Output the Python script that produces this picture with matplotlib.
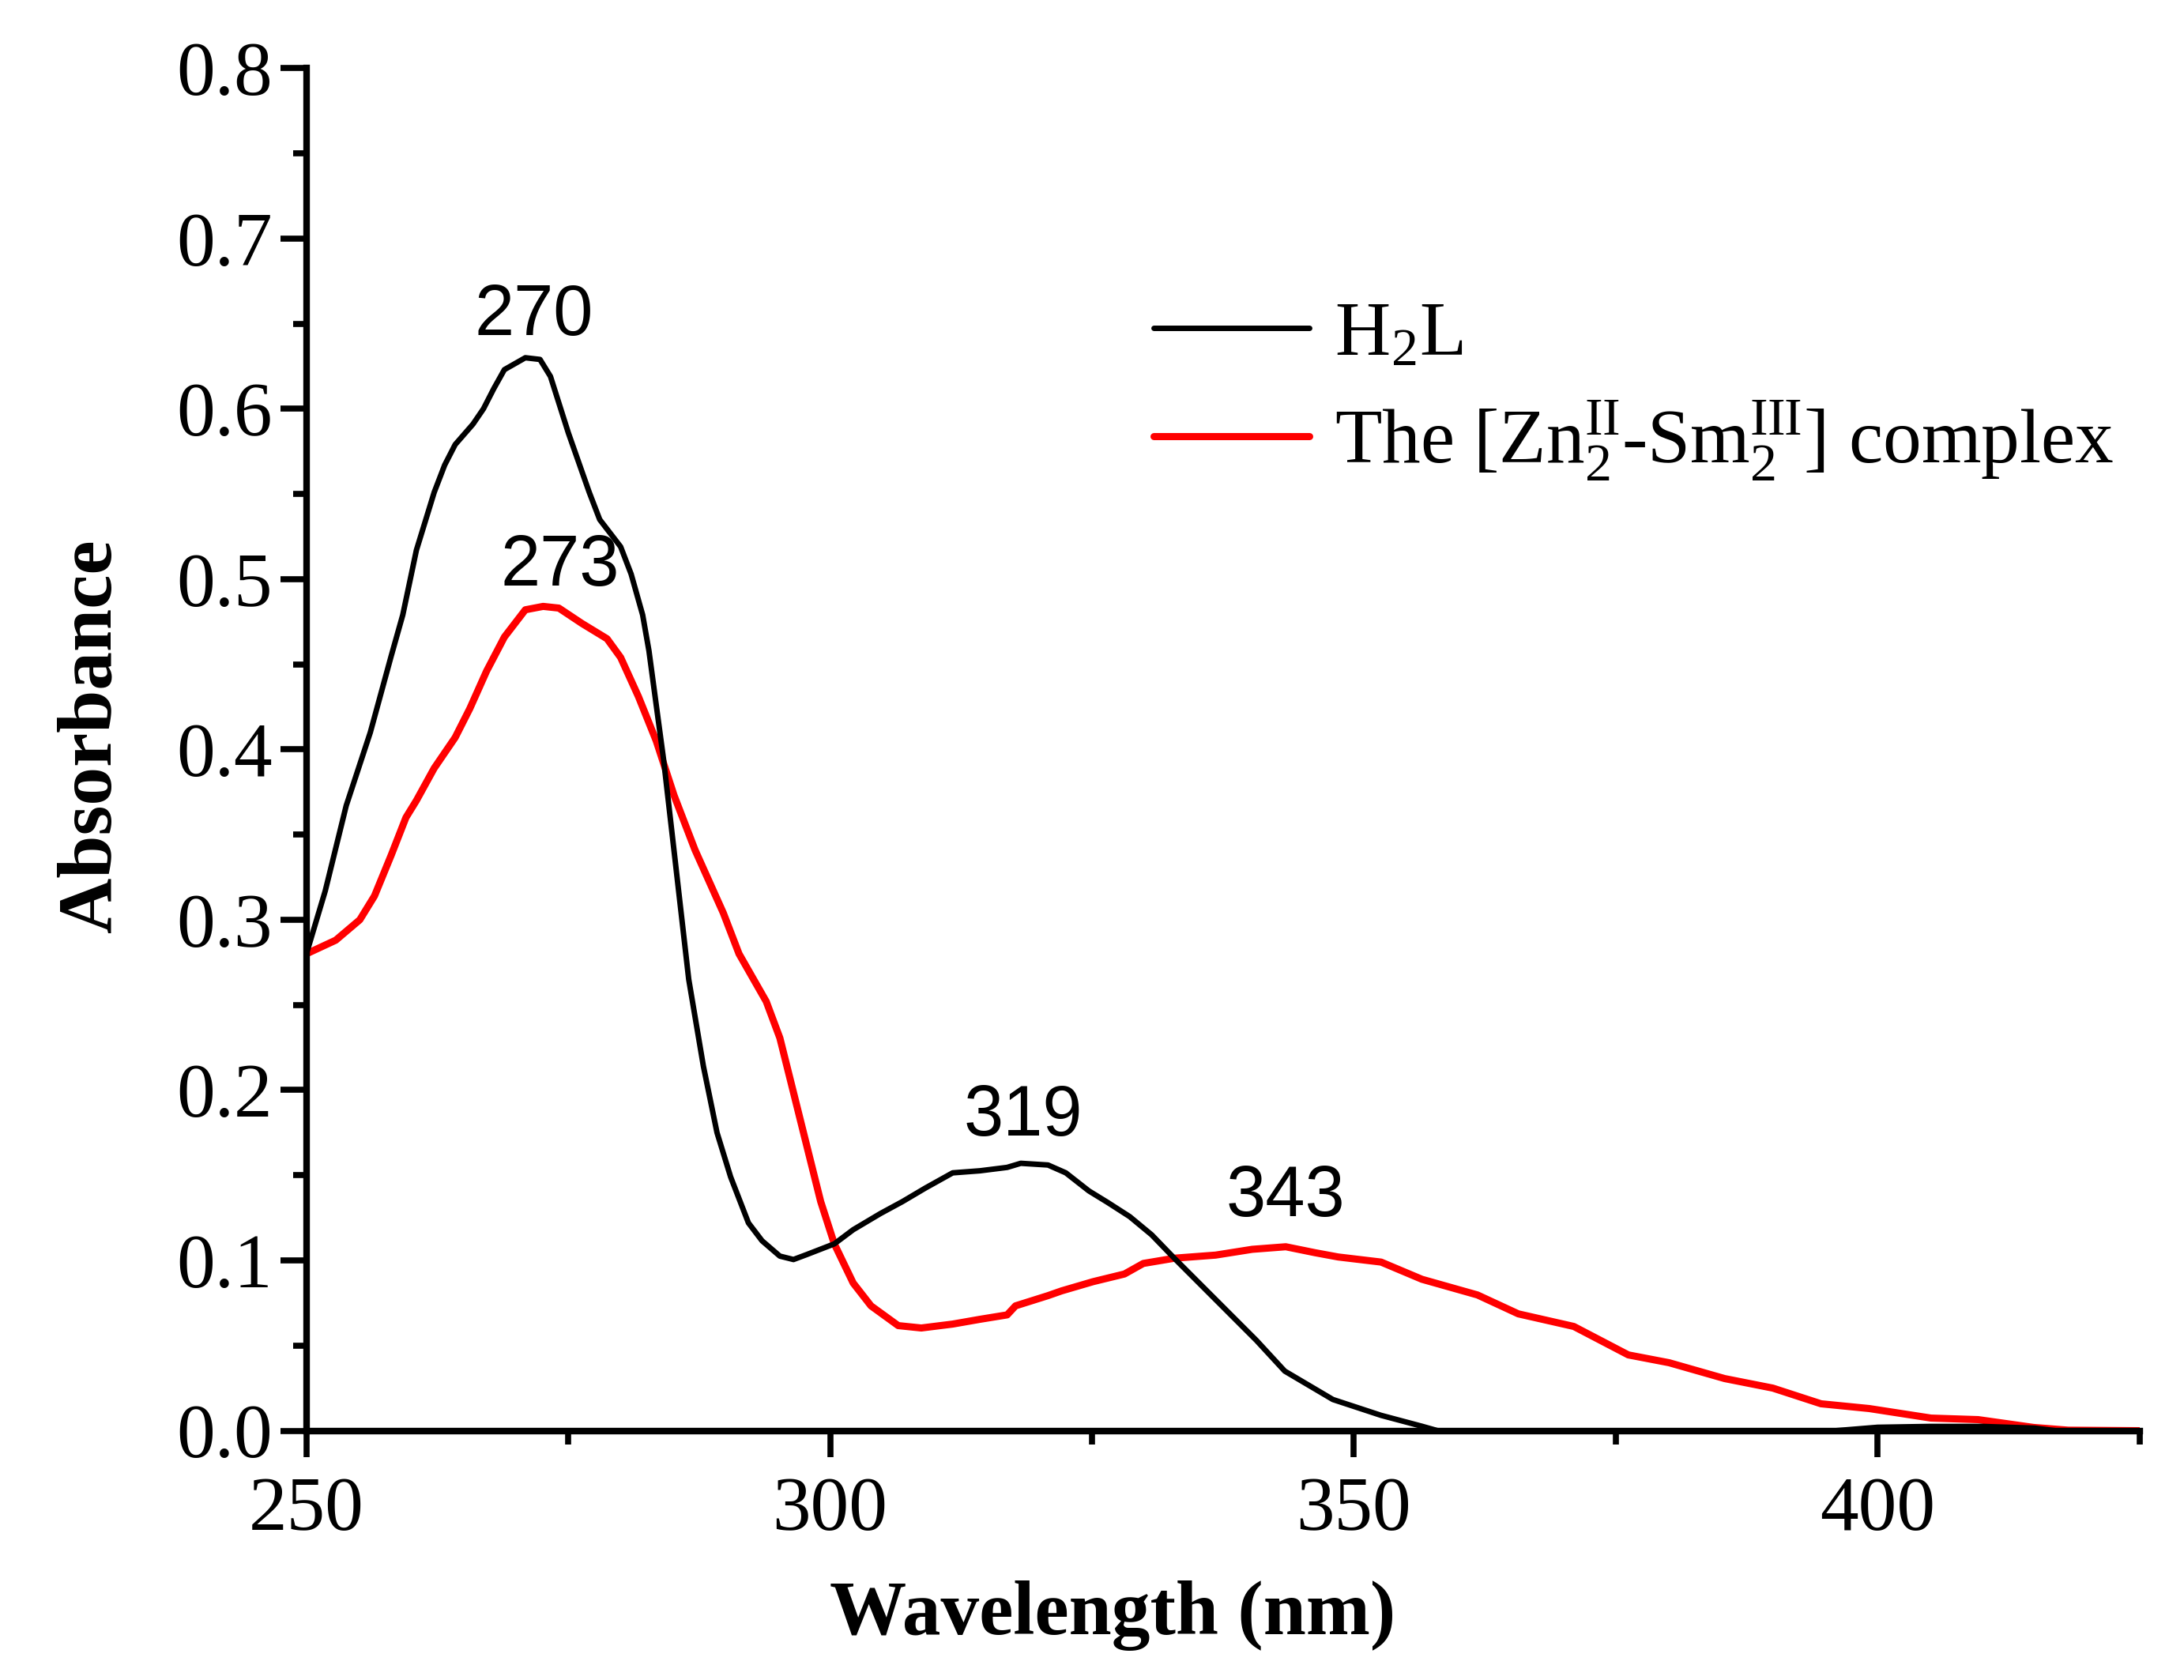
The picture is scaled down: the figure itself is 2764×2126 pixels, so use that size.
import matplotlib
matplotlib.use("Agg")
import matplotlib.pyplot as plt
from matplotlib.ticker import MultipleLocator, FormatStrFormatter

# H2L spectrum
h2l_wl = [250, 251.8, 253.8, 256.1, 258.1, 259.2, 260.5, 262.2, 263.2, 264.2,
          265.9, 266.9, 267.9, 268.9, 270.9, 272.3, 273.3, 275.0, 277.0, 278.0,
          280.0, 281.0, 282.1, 282.7, 283.4, 284.1, 285.2, 286.5, 287.9, 289.2,
          290.5, 292.2, 293.5, 295.2, 296.5, 297.8, 300.4, 302.2, 304.8, 306.9,
          309.1, 311.7, 314.3, 316.9, 318.2, 320.8, 322.5, 324.7, 326.5, 328.6,
          330.7, 332.9, 336.8, 340.7, 343.4, 348.0, 352.6, 356.5, 358.0, 370.0,
          385.0, 396.0, 400.0, 405.0, 410.0, 415.0, 417.0, 425.0]
h2l_abs = [0.280, 0.317, 0.367, 0.410, 0.455, 0.479, 0.517, 0.551, 0.567, 0.579,
           0.591, 0.600, 0.612, 0.623, 0.630, 0.629, 0.619, 0.586, 0.551, 0.535,
           0.519, 0.503, 0.479, 0.458, 0.426, 0.394, 0.335, 0.265, 0.214, 0.175,
           0.149, 0.122, 0.1115, 0.1025, 0.1005, 0.1035, 0.1097, 0.118, 0.1275, 0.1345,
           0.1425, 0.1514, 0.1526, 0.1546, 0.157, 0.156, 0.1514, 0.1408, 0.134, 0.1257,
           0.115, 0.101, 0.077, 0.053, 0.035, 0.0183, 0.009, 0.0026, 0.0, 0.0,
           0.0, 0.0, 0.002, 0.0025, 0.0025, 0.0015, 0.0, 0.0]

# [Zn2-Sm2] complex spectrum
cplx_wl = [250, 252.8, 255.1, 256.5, 258.1, 259.5, 260.5, 262.2, 264.2, 265.6,
           267.2, 268.9, 270.9, 272.6, 274.1, 276.3, 278.7, 280.0, 281.7, 283.4,
           285.1, 287.1, 289.8, 291.3, 293.9, 295.2, 296.5, 297.8, 299.1, 300.4,
           302.2, 303.9, 306.5, 308.7, 311.7, 314.3, 316.9, 317.7, 320.8, 322.1,
           325.1, 328.1, 329.9, 332.9, 336.8, 340.3, 343.5, 346.3, 348.5, 352.6,
           356.5, 361.8, 365.7, 371.0, 376.2, 380.1, 385.4, 390.0, 394.6, 399.2,
           405.1, 409.6, 414.9, 418.2, 425.0]
cplx_abs = [0.280, 0.288, 0.300, 0.314, 0.338, 0.360, 0.370, 0.389, 0.407, 0.424,
            0.446, 0.466, 0.482, 0.484, 0.483, 0.474, 0.465, 0.454, 0.431, 0.405,
            0.373, 0.341, 0.304, 0.280, 0.252, 0.2306, 0.1986, 0.1665, 0.1345, 0.1097,
            0.0867, 0.0733, 0.0617, 0.0603, 0.0626, 0.0654, 0.068, 0.0733, 0.0793, 0.0821,
            0.0875, 0.092, 0.0982, 0.1013, 0.1031, 0.1065, 0.108, 0.1045, 0.102, 0.099,
            0.0889, 0.0797, 0.0686, 0.0612, 0.0445, 0.0399, 0.0306, 0.0250, 0.0158, 0.0130,
            0.0074, 0.0065, 0.0019, 0.0003, 0.0]

# peak labels: text, x, y
peak_text = ["270", "273", "319", "343"]
peak_x = [271.7, 274.2, 318.4, 343.5]
peak_y = [0.654, 0.507, 0.184, 0.137]

plt.rcParams['font.family'] = ['Liberation Serif', 'DejaVu Serif']
plt.rcParams['mathtext.fontset'] = 'custom'
plt.rcParams['mathtext.rm'] = 'Liberation Serif'
plt.rcParams['mathtext.it'] = 'Liberation Serif:italic'
plt.rcParams['mathtext.bf'] = 'Liberation Serif:bold'

fig = plt.figure(figsize=(27.64, 21.26), dpi=100)
ax = fig.add_axes([0.1403, 0.1484, 0.9796 - 0.1403, 0.9594 - 0.1484])

ax.plot(h2l_wl, h2l_abs, color='black', lw=5, label=r'H$_2$L', zorder=3,
        solid_joinstyle='round', solid_capstyle='round')
ax.plot(cplx_wl, cplx_abs, color='#ff0000', lw=6.5,
        label=r'The [Zn$^{\mathrm{II}}_{2}$-Sm$^{\mathrm{III}}_{2}$] complex', zorder=2,
        solid_joinstyle='round', solid_capstyle='round')

for t, x, y in zip(peak_text, peak_x, peak_y):
    ax.text(x, y, t, ha='center', va='center', fontsize=65,
            family=['Liberation Sans', 'DejaVu Sans'])

ax.set_xlim(250, 425)
ax.set_ylim(0, 0.8)
ax.xaxis.set_major_locator(MultipleLocator(50))
ax.xaxis.set_minor_locator(MultipleLocator(25))
ax.yaxis.set_major_locator(MultipleLocator(0.1))
ax.yaxis.set_minor_locator(MultipleLocator(0.05))
ax.yaxis.set_major_formatter(FormatStrFormatter('%.1f'))

for s in ['top', 'right']:
    ax.spines[s].set_visible(False)
for s in ['left', 'bottom']:
    ax.spines[s].set_linewidth(6)

ax.tick_params(which='major', length=24, width=5.5, labelsize=70, direction='out')
ax.tick_params(which='minor', length=12, width=5.5, direction='out')
ax.tick_params(axis='x', which='major', pad=18)
ax.tick_params(axis='y', which='major', pad=7)

ax.set_xlabel('Wavelength (nm)', fontsize=70, fontweight='bold', va='center')
ax.xaxis.set_label_coords(0.44, -0.136)
ax.set_ylabel('Absorbance', fontsize=70, fontweight='bold', va='center')
ax.yaxis.set_label_coords(-0.117, 0.51)

ax.legend(loc='center left', bbox_to_anchor=(0.462, 0.7625), frameon=False,
          fontsize=70, handlelength=2.03, handletextpad=0.33, labelspacing=0.35,
          borderpad=0, borderaxespad=0)

fig.savefig('out.png', dpi=100)
